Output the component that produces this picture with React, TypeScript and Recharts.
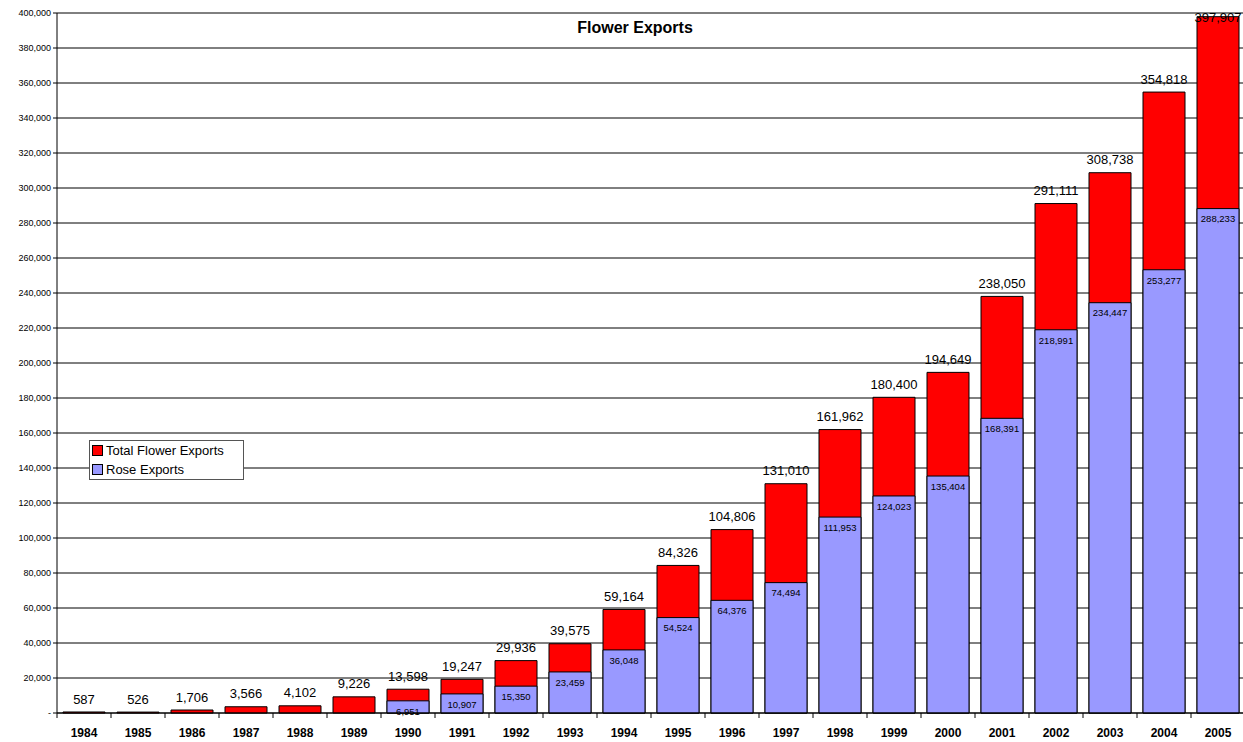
import { Bar, BarChart, CartesianGrid, LabelList, XAxis, YAxis } from "recharts";

const years = [
  "1984", "1985", "1986", "1987", "1988", "1989", "1990", "1991", "1992", "1993", "1994",
  "1995", "1996", "1997", "1998", "1999", "2000", "2001", "2002", "2003", "2004", "2005",
];
const totalExports = [
  587, 526, 1706, 3566, 4102, 9226, 13598, 19247, 29936, 39575, 59164,
  84326, 104806, 131010, 161962, 180400, 194649, 238050, 291111, 308738, 354818, 397907,
];
const roseExports: (number | null)[] = [
  null, null, null, null, null, null, 6951, 10907, 15350, 23459, 36048,
  54524, 64376, 74494, 111953, 124023, 135404, 168391, 218991, 234447, 253277, 288233,
];
const yTicks = [
  0, 20000, 40000, 60000, 80000, 100000, 120000, 140000, 160000, 180000, 200000,
  220000, 240000, 260000, 280000, 300000, 320000, 340000, 360000, 380000, 400000,
];

const data = years.map((year, i) => ({ year, total: totalExports[i], rose: roseExports[i] }));

const FONT = "Arial, 'Liberation Sans', sans-serif";
const BAND = 54;

const fmt = (v: unknown) => (v == null ? "" : Number(v).toLocaleString("en-US"));

function YearTick(props: any) {
  const { x, y, payload, index } = props;
  return (
    <g>
      <line x1={x - BAND / 2} x2={x - BAND / 2} y1={y - 8} y2={y - 3} stroke="#000" />
      {index === years.length - 1 && (
        <line x1={x + BAND / 2} x2={x + BAND / 2} y1={y - 8} y2={y - 3} stroke="#000" />
      )}
      <text x={x} y={y + 16} textAnchor="middle" fontSize={12} fontWeight="bold" fontFamily={FONT} fill="#000">
        {payload.value}
      </text>
    </g>
  );
}

// total label above the bar, pushed down when it would leave the plot (as Excel does)
function TotalLabel(props: any) {
  const { x, y, width, value } = props;
  const cy = Math.max(Number(y) - 13, 17);
  return (
    <text
      x={Number(x) + Number(width) / 2}
      y={cy}
      dy="0.35em"
      textAnchor="middle"
      fontSize={13}
      fontFamily={FONT}
      fill="#000"
    >
      {fmt(value)}
    </text>
  );
}

function Swatch({ color }: { color: string }) {
  return (
    <span
      style={{
        display: "inline-block",
        width: 9,
        height: 9,
        background: color,
        border: "1px solid #000",
        marginRight: 3,
        verticalAlign: "-1px",
      }}
    />
  );
}

export default function App() {
  return (
    <div style={{ position: "absolute", left: 0, top: 0, width: 1243, height: 742, overflow: "hidden", background: "#fff" }}>
      <BarChart
        width={1250}
        height={742}
        data={data}
        margin={{ top: 13, right: 5, left: 0, bottom: 0 }}
        barSize={42}
        barGap={-42}
      >
        <CartesianGrid vertical={false} stroke="#000" strokeOpacity={1} />
        <XAxis
          dataKey="year"
          height={29}
          axisLine={{ stroke: "#000" }}
          tickLine={false}
          interval={0}
          tick={<YearTick />}
        />
        <YAxis
          width={57}
          domain={[0, 400000]}
          ticks={yTicks}
          interval={0}
          axisLine={{ stroke: "#000" }}
          tickLine={{ stroke: "#000" }}
          tickSize={4}
          tickFormatter={(v: number) => (v === 0 ? "-" : v.toLocaleString("en-US"))}
          tick={{ fontSize: 9, fill: "#000", fontFamily: FONT }}
        />
        <Bar dataKey="total" fill="#ff0000" stroke="#000" strokeWidth={1} isAnimationActive={false}>
          <LabelList dataKey="total" content={<TotalLabel />} />
        </Bar>
        <Bar dataKey="rose" fill="#9999ff" stroke="#000" strokeWidth={1} isAnimationActive={false}>
          <LabelList
            dataKey="rose"
            position="insideTop"
            offset={7}
            formatter={fmt}
            style={{ fontSize: 9.5, fill: "#000", fontFamily: FONT }}
          />
        </Bar>
      </BarChart>
      <div
        style={{
          position: "absolute",
          left: 0,
          width: 1270,
          top: 19,
          textAlign: "center",
          fontFamily: FONT,
          fontWeight: "bold",
          fontSize: 16,
          color: "#000",
        }}
      >
        Flower Exports
      </div>
      <div
        style={{
          position: "absolute",
          left: 89,
          top: 440,
          width: 151,
          height: 38,
          border: "1px solid #555",
          background: "#fff",
          fontFamily: FONT,
          fontSize: 13,
          lineHeight: "19px",
          paddingLeft: 2,
          boxSizing: "content-box",
        }}
      >
        <div>
          <Swatch color="#ff0000" />
          Total Flower Exports
        </div>
        <div>
          <Swatch color="#9999ff" />
          Rose Exports
        </div>
      </div>
    </div>
  );
}
